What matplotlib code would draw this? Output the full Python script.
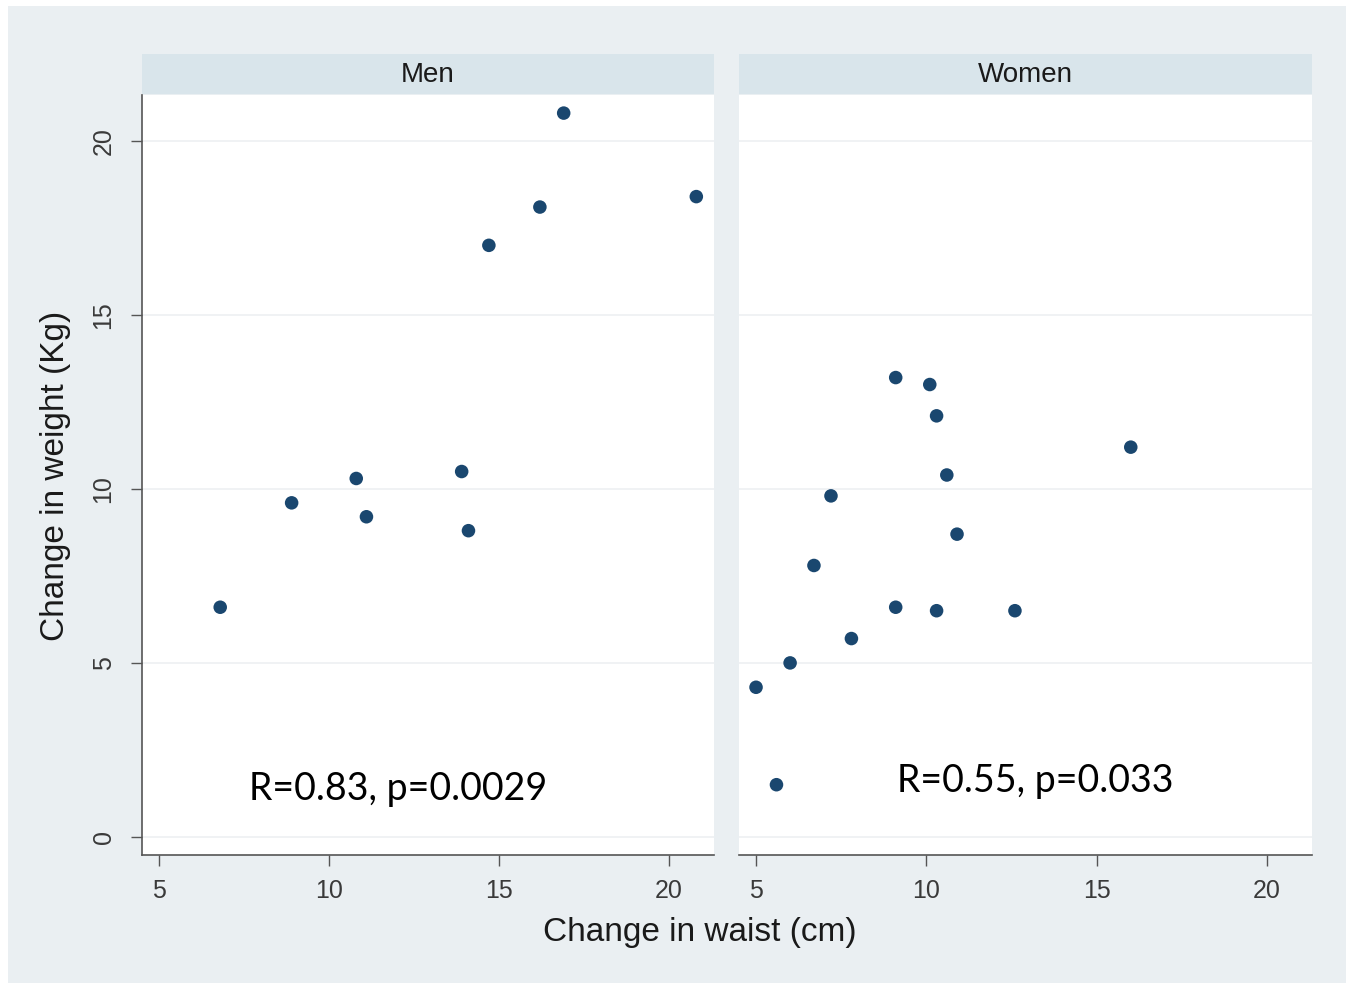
import numpy as np
import matplotlib.pyplot as plt
from matplotlib.patches import Rectangle

# data
men_waist = [6.8, 8.9, 10.8, 11.1, 13.9, 14.1, 14.7, 16.2, 16.9, 20.8]
men_weight = [6.6, 9.6, 10.3, 9.2, 10.5, 8.8, 17.0, 18.1, 20.8, 18.4]

women_waist = [5.0, 5.6, 6.0, 6.7, 7.2, 7.8, 9.1, 9.1, 10.1, 10.3, 10.3, 10.6, 10.9, 12.6, 16.0]
women_weight = [4.3, 1.5, 5.0, 7.8, 9.8, 5.7, 6.6, 13.2, 13.0, 12.1, 6.5, 10.4, 8.7, 6.5, 11.2]

panels = ["Men", "Women"]
stats = ["R=0.83, p=0.0029", "R=0.55, p=0.033"]
xticks = [5, 10, 15, 20]
yticks = [0, 5, 10, 15, 20]

plt.rcParams['font.family'] = ['Liberation Sans', 'DejaVu Sans']

W, H = 1346, 983
fig = plt.figure(figsize=(W / 100, H / 100), dpi=100, facecolor="white")
bg = "#eaeff2"
fig.patches.append(Rectangle((8 / W, 0), 1, 1 - 6 / H, transform=fig.transFigure,
                             facecolor=bg, edgecolor="none", zorder=-10))


def px(x0, y0, x1, y1):
    return [x0 / W, 1 - y1 / H, (x1 - x0) / W, (y1 - y0) / H]


navy = "#1a476f"
data = [(men_waist, men_weight), (women_waist, women_weight)]
lefts = [142, 739]
rights = [714, 1312]
text_pos = [(398, 789), (1035, 781)]

for i in range(2):
    ax = fig.add_axes(px(lefts[i], 95, rights[i], 855))
    ax.set_facecolor("white")
    ax.set_xlim(4.5, 21.32)
    ax.set_ylim(-0.52, 21.32)
    for y in yticks:
        ax.axhline(y, color="#eef0f2", lw=1.2, zorder=0)
    ax.scatter(data[i][0], data[i][1], s=95, color=navy, edgecolor="none", zorder=3)
    for s in ["top", "right"]:
        ax.spines[s].set_visible(False)
    ax.spines["bottom"].set_color("#555555")
    ax.spines["bottom"].set_linewidth(1.2)
    ax.set_xticks(xticks)
    ax.set_xticklabels([str(t) for t in xticks], fontsize=18, color="#3a3a3a")
    ax.tick_params(axis="x", length=8, width=1, color="#555555", pad=9)
    if i == 0:
        ax.spines["left"].set_color("#555555")
        ax.spines["left"].set_linewidth(1.2)
        ax.set_yticks(yticks)
        ax.set_yticklabels([str(t) for t in yticks], fontsize=18, color="#3a3a3a",
                           rotation=90, va="center")
        ax.tick_params(axis="y", length=8, width=1, color="#555555", pad=11)
    else:
        ax.spines["left"].set_visible(False)
        ax.set_yticks([])

    # strip header
    hx = fig.add_axes(px(lefts[i], 54, rights[i], 94))
    hx.set_facecolor("#d9e5eb")
    hx.set_xticks([])
    hx.set_yticks([])
    for s in hx.spines.values():
        s.set_visible(False)
    hx.text(0.5, 0.47, panels[i], ha="center", va="center", fontsize=20, color="#1a1a1a")

    tx, ty = text_pos[i]
    fig.text(tx / W, 1 - ty / H, stats[i], ha="center", va="center",
             fontsize=27, family="Lato", color="black")

fig.text(700 / W, 1 - 933 / H, "Change in waist (cm)", ha="center", va="center",
         fontsize=24, color="#1a1a1a")
fig.text(56 / W, 1 - 476 / H, "Change in weight (Kg)", ha="center", va="center",
         fontsize=24, color="#1a1a1a", rotation=90)

fig.savefig("out.png", dpi=100, facecolor=fig.get_facecolor())
